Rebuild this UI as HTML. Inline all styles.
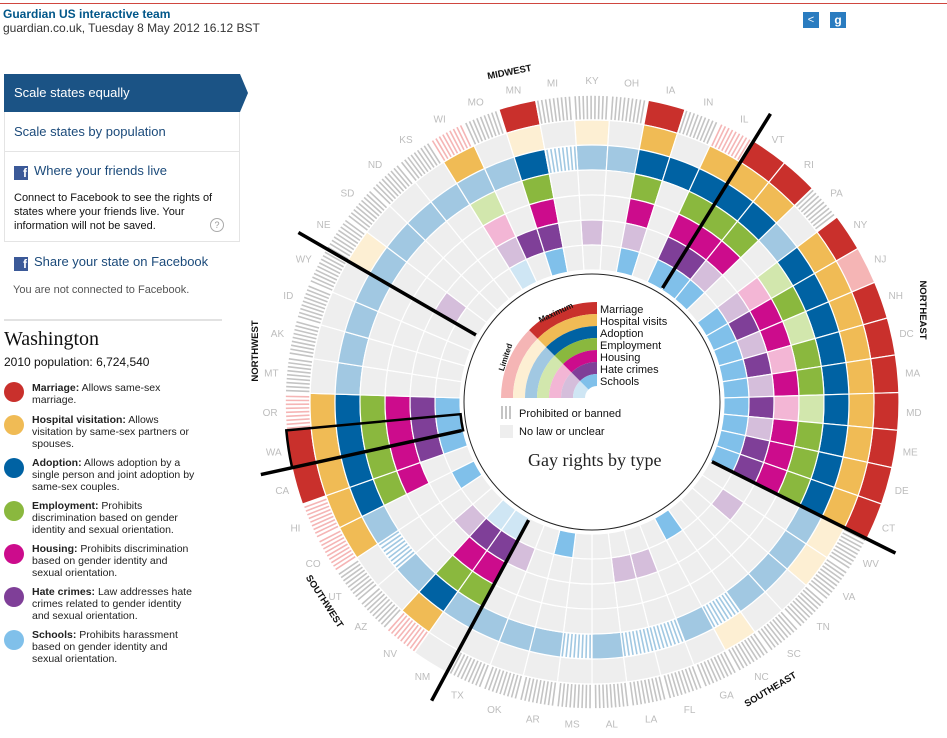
<!DOCTYPE html>
<html><head><meta charset="utf-8">
<style>
body{margin:0;width:947px;height:738px;overflow:hidden;background:#fff;font-family:"Liberation Sans",Arial,sans-serif;position:relative}
.abs{position:absolute}
.lg{position:absolute;left:32px;width:168px;font-size:10.5px;line-height:12px;color:#222}
.dot{position:absolute;left:4px;width:20px;height:20px;border-radius:50%}
.fb{display:inline-block;width:14px;height:14px;background:#3b5998;color:#fff;font-weight:bold;font-size:12px;line-height:15px;text-align:right;vertical-align:-2px;margin-right:6px;padding-right:1px;box-sizing:border-box}
</style></head><body>
<div class="abs" style="left:0;top:3px;width:947px;height:1px;background:#d0463f"></div>
<div class="abs" style="left:3px;top:7px;font-size:12px;font-weight:bold;color:#005689">Guardian US interactive team</div>
<div class="abs" style="left:3px;top:21px;font-size:12px;color:#333">guardian.co.uk, Tuesday 8 May 2012 16.12 BST</div>
<div class="abs" style="left:803px;top:12px;width:16px;height:16px;background:#2a7cc0;color:#fff;font-size:11px;text-align:center;line-height:16px">&lt;</div>
<div class="abs" style="left:830px;top:12px;width:16px;height:16px;background:#2a7cc0;color:#fff;font-size:12px;font-weight:bold;text-align:center;line-height:16px">g</div>

<div class="abs" style="left:4px;top:74px;width:236px;height:38px;background:#1b5385;color:#fff;font-size:13px;line-height:38px;padding-left:10px;box-sizing:border-box">Scale states equally</div>
<div class="abs" style="left:240px;top:74px;width:0;height:0;border-top:19px solid transparent;border-bottom:19px solid transparent;border-left:8px solid #1b5385"></div>
<div class="abs" style="left:4px;top:112px;width:236px;height:130px;border:1px solid #e4e4e4;border-top:none;box-sizing:border-box"></div>
<div class="abs" style="left:14px;top:124px;font-size:13px;color:#1b4a7a">Scale states by population</div>
<div class="abs" style="left:4px;top:151px;width:236px;height:1px;background:#e4e4e4"></div>
<div class="abs" style="left:14px;top:163px;font-size:13px;color:#1b4a7a"><span class="fb">f</span>Where your friends live</div>
<div class="abs" style="left:14px;top:191px;width:210px;font-size:11px;line-height:14px;color:#111">Connect to Facebook to see the rights of states where your friends live. Your information will not be saved.</div>
<div class="abs" style="left:210px;top:218px;width:12px;height:12px;border:1px solid #aaa;border-radius:50%;font-size:9px;color:#999;text-align:center;line-height:12px">?</div>
<div class="abs" style="left:14px;top:254px;font-size:13px;color:#1b4a7a"><span class="fb">f</span>Share your state on Facebook</div>
<div class="abs" style="left:13px;top:284px;font-size:11px;color:#555">You are not connected to Facebook.</div>
<div class="abs" style="left:4px;top:319px;width:218px;height:2px;background:#e2e2e2"></div>
<div class="abs" style="left:4px;top:328px;font-family:'Liberation Serif',serif;font-size:20px;color:#111">Washington</div>
<div class="abs" style="left:4px;top:355px;font-size:12px;color:#111">2010 population: 6,724,540</div>

<div class="dot" style="top:382px;background:#c9302c"></div>
<div class="lg" style="top:382px"><b>Marriage:</b> Allows same-sex marriage.</div>
<div class="dot" style="top:415px;background:#f0bb55"></div>
<div class="lg" style="top:414px"><b>Hospital visitation:</b> Allows visitation by same-sex partners or spouses.</div>
<div class="dot" style="top:458px;background:#0062a3"></div>
<div class="lg" style="top:457px"><b>Adoption:</b> Allows adoption by a single person and joint adoption by same-sex couples.</div>
<div class="dot" style="top:501px;background:#8ab83e"></div>
<div class="lg" style="top:500px"><b>Employment:</b> Prohibits discrimination based on gender identity and sexual orientation.</div>
<div class="dot" style="top:544px;background:#cc0c8c"></div>
<div class="lg" style="top:543px"><b>Housing:</b> Prohibits discrimination based on gender identity and sexual orientation.</div>
<div class="dot" style="top:587px;background:#7f3f98"></div>
<div class="lg" style="top:586px"><b>Hate crimes:</b> Law addresses hate crimes related to gender identity and sexual orientation.</div>
<div class="dot" style="top:630px;background:#80c0ea"></div>
<div class="lg" style="top:629px"><b>Schools:</b> Prohibits harassment based on gender identity and sexual orientation.</div>

<svg id="chart" class="abs" style="left:0;top:0" width="947" height="738" xmlns="http://www.w3.org/2000/svg"></svg>

<script>
const states = ["KY","OH","IA","IN","IL","VT","RI","PA","NY","NJ","NH","DC","MA","MD","ME","DE","CT","WV","VA","TN","SC","NC","GA","FL","LA","AL","MS","AR","OK","TX","NM","NV","AZ","UT","CO","HI","CA","WA","OR","MT","AK","ID","WY","NE","SD","ND","KS","WI","MO","MN","MI"];
// codes: F full, L limited, P prohibited (grey hatch), H prohibited (coloured hatch), N none
const marriage   = ("PPFPHFFPFL"+"FFFFFFFPPP"+"PPPPPPPPPP"+"NHPPHHFFHP"+"PPPPPPPHPFP").split("");
const hospital   = ("LNFNFFFNFF"+"FFFFFFFLLN"+"NLNNNNNNNN"+"NFNNFFFFFN"+"NNNLNNNFNLN").split("");
const adoption   = ("LLFFFFFLFF"+"FFFFFFFLLL"+"LHLHHLHLLL"+"LFLHLFFFFL"+"LLLLLLLLLFH").split("");
const employment = ("NNFNFFFNLF"+"LFFLFFFNNN"+"NNNNNNNNNN"+"FFNNNFFFFN"+"NNNNNNNLNFN").split("");
const housing    = ("NNFNFFFNLF"+"FLFLFFFNNN"+"NNNNNNNNNN"+"FFNNNFFFFN"+"NNNNNNNLNFN").split("");
const hateCrimes = ("LNLNFFLNLF"+"LFLFLFFNLN"+"NNNLLNNNNL"+"FFLNNNFFFN"+"NNNLNNNLFFN").split("");
const schools    = ("NNFNFFFNFF"+"FFFFFFFNNN"+"NFNNNNNFNN"+"LLNNFNFFFN"+"NNNNNNNLNFN").split("");
const rightNames = ["Marriage","Hospital visits","Adoption","Employment","Housing","Hate crimes","Schools"];
const dividerAfter = [4,16,29,36,42];
const selectedState = "WA";

const series=[marriage,hospital,adoption,employment,housing,hateCrimes,schools];
const fullC=["#c9302c","#f0bb55","#0062a3","#8ab83e","#cc0c8c","#7f3f98","#80c0ea"];
const lightC=["#f5b5b5","#fdefd3","#a1c8e2","#d2e7ad","#f3b6d5","#d5bedb","#cfe6f4"];
const NS="http://www.w3.org/2000/svg";
const svg=document.getElementById("chart");
const cx=592,cy=402,R0=307,RW=25,step=360/states.length;
function pt(r,a){const t=a*Math.PI/180;return [cx+r*Math.sin(t),cy-r*Math.cos(t)];}
function sector(r0,r1,a0,a1,x,y,ccx,ccy){
  ccx=ccx||cx;ccy=ccy||cy;
  const P=(r,a)=>{const t=a*Math.PI/180;return [ccx+r*Math.sin(t),ccy-r*Math.cos(t)];};
  const p1=P(r1,a0),p2=P(r1,a1),p3=P(r0,a1),p4=P(r0,a0);const lg=(a1-a0)>180?1:0;
  return `M${p1}A${r1},${r1} 0 ${lg} 1 ${p2}L${p3}A${r0},${r0} 0 ${lg} 0 ${p4}Z`;
}
function mk(tag,attrs,parent){const e=document.createElementNS(NS,tag);for(const k in attrs)e.setAttribute(k,attrs[k]);(parent||svg).appendChild(e);return e;}

const gCells=mk("g",{});


states.forEach((s,i)=>{
  const a0=i*step-step/2,a1=i*step+step/2;
  series.forEach((arr,k)=>{
    const r1=R0-k*RW,r0=r1-RW,code=arr[i];
    let fill="#eeeeee";
    if(code==="F")fill=fullC[k];else if(code==="L")fill=lightC[k];else if(code==="P"||code==="H")fill="#ffffff";
    const p=mk("path",{d:sector(r0,r1,a0,a1),fill:fill,stroke:"#fff","stroke-width":1.2},gCells);
    
    
    if(code==="P"||code==="H"){
      const col=code==="P"?"#c4c4c4":lightC[k];
      const dA=4/r1*180/Math.PI;
      for(let a=a0+dA/2;a<a1-0.2;a+=dA){
        const q0=pt(r0+0.8,a),q1=pt(r1-0.8,a);
        mk("line",{x1:q0[0],y1:q0[1],x2:q1[0],y2:q1[1],stroke:col,"stroke-width":1.6},gCells);
      }
    }
  });
  const lp=pt(322,i*step);
  const t=mk("text",{x:lp[0],y:lp[1]+4,"text-anchor":"middle","font-size":"10","fill":"#bdbdbd"});
  t.textContent=s;
  
  
});
const si=states.indexOf(selectedState);
const sel=mk("path",{d:sector(R0-7*RW,R0,si*step-step/2,si*step+step/2),fill:"none",stroke:"#000","stroke-width":2.5});


dividerAfter.forEach(d=>{
  const a=(d+0.5)*step,p0=pt(134,a),p1=pt(339,a);
  const l=mk("line",{x1:p0[0],y1:p0[1],x2:p1[0],y2:p1[1],stroke:"#000","stroke-width":3.5});
  
  
});
const ic=mk("circle",{cx:cx,cy:cy,r:128,fill:"#fff",stroke:"#222","stroke-width":1});


[["MIDWEST",510,75,-11],["NORTHEAST",920,310,90],["SOUTHEAST",772,692,-31],["SOUTHWEST",322,603,57],["NORTHWEST",258,351,-90]].forEach(r=>{
  const t=mk("text",{x:r[1],y:r[2],"text-anchor":"middle","font-size":"9.5","font-weight":"bold",fill:"#111",transform:`rotate(${r[3]} ${r[1]} ${r[2]})`});
  t.textContent=r[0];
  
  
});
const lx=597,ly=398;
const gL=mk("g",{});


for(let k=0;k<7;k++){
  const r1=96-k*12,r0=r1-12;
  mk("path",{d:sector(r0,r1,270,315,0,0,lx,ly),fill:lightC[k]},gL);
  mk("path",{d:sector(r0,r1,315,360,0,0,lx,ly),fill:fullC[k]},gL);
  const t=mk("text",{x:600,y:313+k*12,"font-size":"11",fill:"#111"},gL);
  t.textContent=rightNames[k];
  
  
}
const tm=mk("text",{x:557,y:315,"font-size":"8","font-weight":"bold",fill:"#111",transform:"rotate(-25 557 315)","text-anchor":"middle"},gL);tm.textContent="Maximum";
const tl=mk("text",{x:508,y:358,"font-size":"8","font-weight":"bold",fill:"#111",transform:"rotate(-72 508 358)","text-anchor":"middle"},gL);tl.textContent="Limited";
for(let j=0;j<3;j++)mk("rect",{x:501+j*4,y:406,width:2,height:13,fill:"#c4c4c4"},gL);
mk("rect",{x:500,y:425,width:13,height:13,fill:"#eeeeee"},gL);
const tp=mk("text",{x:519,y:417,"font-size":"11",fill:"#111"},gL);tp.textContent="Prohibited or banned";
const tn=mk("text",{x:519,y:435,"font-size":"11",fill:"#111"},gL);tn.textContent="No law or unclear";
const tt=mk("text",{x:528,y:466,"font-size":"18","font-family":"Liberation Serif, serif",fill:"#222"});
tt.textContent="Gay rights by type";


</script>
</body></html>
